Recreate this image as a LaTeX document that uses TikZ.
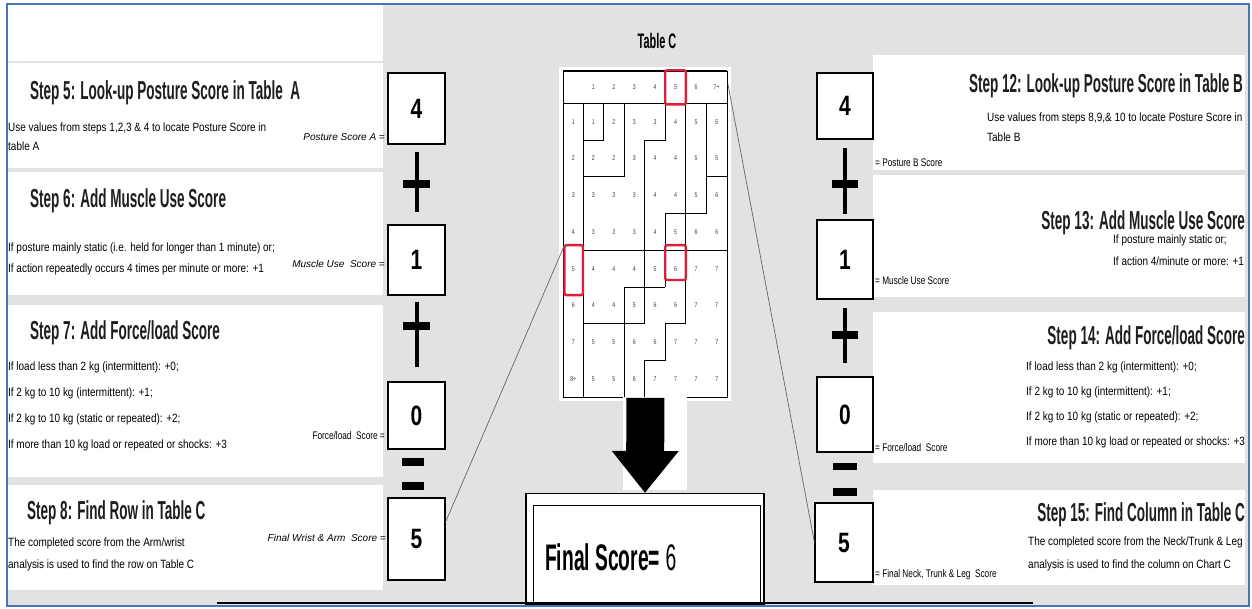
\documentclass[tikz,border=0pt]{standalone}
\usepackage{fontspec}
\setmainfont{Liberation Sans}
\newfontfamily\narrowfont{Liberation Sans}[FakeStretch=0.75]
\newfontfamily\bodyfont{Liberation Sans}[FakeStretch=0.83]
\newfontfamily\headfont{Liberation Sans}[FakeStretch=0.52]
\usepackage{xcolor}
\usepackage{tikz}
\usetikzlibrary{arrows.meta, positioning}

\definecolor{pagegray}{RGB}{226,226,226}
\definecolor{frameblue}{RGB}{70,114,190}
\definecolor{markred}{RGB}{224,30,56}
\definecolor{titlegray}{RGB}{30,30,30}

\begin{document}
\begin{tikzpicture}[
    x=1pt, y=-1pt,
    panel/.style={fill=white, draw=none},
    scorebox/.style={rectangle, draw=black, line width=1.1pt, fill=white, minimum width=57pt, inner sep=0pt, font=\narrowfont\bfseries\fontsize{28}{28}\selectfont},
    steptitle/.style={inner sep=0pt, text=titlegray, font=\headfont\bfseries\fontsize{26}{26}\selectfont},
    steptext/.style={inner sep=0pt, align=left, anchor=north west, font=\bodyfont\fontsize{12}{#1}\selectfont},
    scorelbl/.style={inner sep=0pt, font=\narrowfont\fontsize{11}{11}\selectfont},
    cellnum/.style={inner sep=0pt, text=black!75, font=\narrowfont\fontsize{7}{7}\selectfont},
    tabline/.style={draw=black, line width=0.9pt},
    hilite/.style={draw=markred, line width=2.4pt, rounded corners=2pt},
    link/.style={draw=black!60, line width=0.7pt},
    opbar/.style={fill=black},
    bigarrow/.style={draw=black, line width=38pt, -{Triangle[length=42pt, width=64pt]}}
]
    \useasboundingbox (0,0) rectangle (1252,608);
    \fill[white] (0,0) rectangle (1252,608);
    \fill[pagegray] (7,4) rectangle (1249,606);

    % left panels
    \fill[panel] (8,5) rectangle (383,61);
    \fill[panel] (8,63) rectangle (383,168);
    \fill[panel] (8,172) rectangle (383,295);
    \fill[panel] (8,305) rectangle (383,477);
    \fill[panel] (8,485) rectangle (383,590);
    % right panels
    \fill[panel] (873,55) rectangle (1245,170);
    \fill[panel] (873,175) rectangle (1245,297);
    \fill[panel] (873,312) rectangle (1245,463);
    \fill[panel] (873,490) rectangle (1245,585);

    % left steps
    \node[steptitle, anchor=base west] (s5) at (30,99) {Step 5: Look-up Posture Score in Table\ \ A};
    \node[steptext=19] (s5txt) at (8,123) {Use values from steps 1,2,3 \& 4 to locate Posture Score in\\table A};
    \node[steptitle, anchor=base west] (s6) at (30,207) {Step 6: Add Muscle Use Score};
    \node[steptext=21] (s6txt) at (8,243) {If posture mainly static (i.e. held for longer than 1 minute) or;\\If action repeatedly occurs 4 times per minute or more: +1};
    \node[steptitle, anchor=base west] (s7) at (30,339) {Step 7: Add Force/load Score};
    \node[steptext=26] (s7txt) at (8,362) {If load less than 2 kg (intermittent): +0;\\If 2 kg to 10 kg (intermittent): +1;\\If 2 kg to 10 kg (static or repeated): +2;\\If more than 10 kg load or repeated or shocks: +3};
    \node[steptitle, anchor=base west] (s8) at (27,519) {Step 8: Find Row in Table C};
    \node[steptext=22] (s8txt) at (8,538) {The completed score from the Arm/wrist\\analysis is used to find the row on Table C};

    % left scores
    \node[scorebox, minimum height=71pt] (lboxA) at (416.5,108.5) {4};
    \node[scorebox, minimum height=70pt] (lboxM) at (416.5,260) {1};
    \node[scorebox, minimum height=67pt] (lboxF) at (416.5,415.5) {0};
    \node[scorebox, minimum height=82pt] (lboxW) at (416.5,539) {5};
    \node[scorelbl, anchor=base east, font=\itshape] (llblA) at (385,140) {Posture Score A =};
    \node[scorelbl, anchor=base east, font=\itshape] (llblM) at (385,267) {Muscle Use\ \ Score =};
    \node[scorelbl, anchor=base east] (llblF) at (385,439) {Force/load\ \ Score =};
    \node[scorelbl, anchor=base east, font=\itshape] (llblW) at (386,541) {Final Wrist \& Arm\ \ Score =};
    \fill[opbar] (414.5,152) rectangle (418.5,212);
    \fill[opbar] (403,180) rectangle (430,188);
    \fill[opbar] (414.5,302) rectangle (418.5,367);
    \fill[opbar] (403,322) rectangle (430,330);
    \fill[opbar] (402,458) rectangle (424,466);
    \fill[opbar] (402,482) rectangle (424,490);

    % right steps
    \node[steptitle, anchor=base east] (s12) at (1243,92) {Step 12: Look-up Posture Score in Table B};
    \node[steptext=20] (s12txt) at (987,113) {Use values from steps 8,9,\& 10 to locate Posture Score in\\Table B};
    \node[steptitle, anchor=base east] (s13) at (1245,229) {Step 13: Add Muscle Use Score};
    \node[steptext=22] (s13txt) at (1113,235) {If posture mainly static or;\\If action 4/minute or more: +1};
    \node[steptitle, anchor=base east] (s14) at (1245,344) {Step 14: Add Force/load Score};
    \node[steptext=25] (s14txt) at (1026,362) {If load less than 2 kg (intermittent): +0;\\If 2 kg to 10 kg (intermittent): +1;\\If 2 kg to 10 kg (static or repeated): +2;\\If more than 10 kg load or repeated or shocks: +3};
    \node[steptitle, anchor=base east] (s15) at (1245,521) {Step 15: Find Column in Table C};
    \node[steptext=23] (s15txt) at (1028,537) {The completed score from the Neck/Trunk \& Leg\\analysis is used to find the column on Chart C};

    % right scores
    \node[scorebox, minimum width=56pt, minimum height=66pt] (rboxB) at (845,106) {4};
    \node[scorebox, minimum width=56pt, minimum height=79pt] (rboxM) at (845,259.5) {1};
    \node[scorebox, minimum width=56pt, minimum height=75pt] (rboxF) at (845,414.5) {0};
    \node[scorebox, minimum width=58pt, minimum height=79pt] (rboxN) at (844,542.5) {5};
    \node[scorelbl, anchor=base west] (rlblB) at (875,166) {= Posture B Score};
    \node[scorelbl, anchor=base west] (rlblM) at (875,284) {= Muscle Use Score};
    \node[scorelbl, anchor=base west] (rlblF) at (875,451) {= Force/load\ \ Score};
    \node[scorelbl, anchor=base west] (rlblN) at (875,577) {= Final Neck, Trunk \& Leg\ \ Score};
    \fill[opbar] (843,148) rectangle (847,214);
    \fill[opbar] (832,180) rectangle (858,188);
    \fill[opbar] (843,308) rectangle (847,363);
    \fill[opbar] (832,331) rectangle (858,339);
    \fill[opbar] (833,463) rectangle (857,470);
    \fill[opbar] (833,488) rectangle (857,496);

    % table C
    \node[inner sep=0pt, font=\headfont\bfseries\fontsize{21}{21}\selectfont] (tctitle) at (657,41) {Table C};
    \fill[white] (559,67) rectangle (731,401);
    \node[draw=black, line width=0.9pt, fill=white, minimum width=164pt, minimum height=326pt, inner sep=0pt, anchor=north west] (tabC) at (563,71) {};
    \begin{scope}[shift={(583,103.3)}, x=20.57pt, y=-36.74pt]
        \draw[tabline, line width=1.4pt] (-0.97,-0.875) -- (7,-0.875);
        \draw[tabline, line width=1.4pt] (-0.97,0) -- (7,0);
        \foreach \c/\t in {1/1,2/2,3/3,4/4,5/5,6/6,7/7+}
            \node[cellnum] (h\c) at (\c-0.5,-0.44) {\t};
        \foreach \r/\t in {1/1,2/2,3/3,4/4,5/5,6/6,7/7,8/8+}
            \node[cellnum] (rl\r) at (-0.47,\r-0.5) {\t};
        \foreach \r/\vals in {1/{1,2,3,3,4,5,5}, 2/{2,2,3,4,4,5,5}, 3/{3,3,3,4,4,5,6}, 4/{3,3,3,4,5,6,6},
                              5/{4,4,4,5,6,7,7}, 6/{4,4,5,6,6,7,7}, 7/{5,5,6,6,7,7,7}, 8/{5,5,6,7,7,7,7}}
            \foreach \v [count=\c] in \vals
                \node[cellnum] (c\r-\c) at (\c-0.5,\r-0.5) {\v};
        % score bands
        \draw[tabline] (0,0) -- (0,8)
            (1,0) -- (1,1) -- (0,1)
            (2,0) -- (2,2) -- (0,2)
            (4,0) -- (4,1) -- (3,1) -- (3,6)
            (5,0) -- (5,6)
            (6,0) -- (6,3)
            (6,2) -- (7,2)
            (4,3) -- (6,3)
            (4,3) -- (4,5)
            (0,4) -- (7,4)
            (2,5) -- (4,5)
            (2,5) -- (2,8)
            (0,6) -- (3,6)
            (4,6) -- (5,6)
            (4,6) -- (4,7) -- (3,7) -- (3,8);
        \draw[hilite] (4,-0.9) rectangle (5,0.03);
        \draw[hilite] (-0.9,3.86) rectangle (0,5.22);
        \draw[hilite] (4,3.86) rectangle (5,4.81);
        \coordinate (rowmark) at (-0.9,3.86);
    \end{scope}

    % final score
    \fill[white] (623,397) rectangle (687,490);
    \node[draw=black, line width=1.1pt, fill=white, minimum width=238pt, minimum height=111pt, inner sep=0pt, anchor=north] (finalbox) at (645,493) {};
    \node[draw=black, line width=1.1pt, fill=white, minimum width=227pt, minimum height=99pt, inner sep=0pt, anchor=north west] (finalin) at (533,505) {};
    \node[inner sep=0pt, anchor=base west, font=\headfont\bfseries\fontsize{37}{37}\selectfont] (fstxt) at (545,570) {Final Score= {\mdseries 6}};
    \draw[bigarrow] (tabC.south) -- (finalbox.north);

    % connectors
    \draw[link] ([yshift=17pt]lboxW.east) -- (rowmark);
    \draw[link] ([yshift=-13pt]tabC.north east) -- (rboxN.west);

    \draw[black, line width=1.6pt] (217,603) -- (1033,603);
    \draw[frameblue, line width=2pt] (7,4) rectangle (1249,606);
\end{tikzpicture}
\end{document}
